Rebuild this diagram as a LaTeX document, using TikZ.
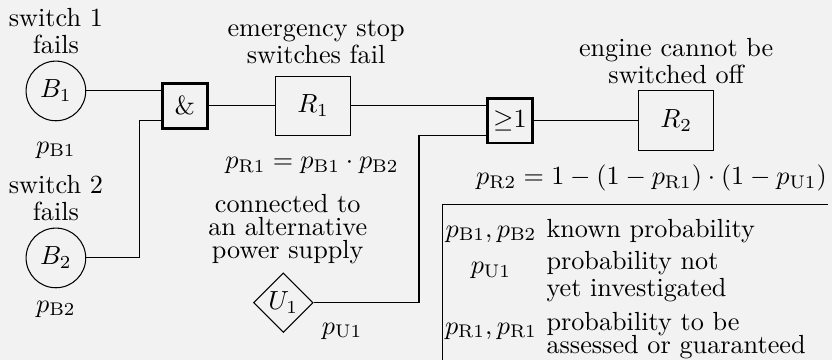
\documentclass[tikz,border=0pt]{standalone}
\usepackage{amsmath,amssymb}
\usetikzlibrary{shapes.geometric,positioning}
\definecolor{bggray}{RGB}{242,242,242}

\begin{document}
\begin{tikzpicture}[
  event/.style={circle,draw=black,inner sep=0pt,minimum size=0.8cm},
  undev/.style={diamond,draw=black,inner sep=0pt,minimum size=0.8cm},
  result/.style={rectangle,draw=black,minimum width=1.01cm,minimum height=0.8cm},
  gate/.style={rectangle,draw=black,line width=1pt,inner sep=0pt,minimum size=0.6cm},
  caption/.style={align=center,inner sep=0pt,anchor=base,
    font=\linespread{#1}\selectfont},
  caption/.default=0.83,
  prob/.style={inner sep=0pt,anchor=base},
]
\fill[bggray] (0,0) rectangle (11.16,4.83);
\useasboundingbox (0,0) rectangle (11.16,4.83);

\node[event] (B1) at (0.75,3.61) {$B_1$};
\node[event] (B2) at (0.75,1.37) {$B_2$};
\node[gate] (and) at (2.48,3.41) {\&};
\node[result] (R1) at (4.2,3.41) {$R_1$};
\node[gate] (or) at (6.84,3.21) {$\geq$1};
\node[result] (R2) at (9.07,3.21) {$R_2$};
\node[undev] (U1) at (3.8,0.77) {$U_1$};

\coordinate (k1) at (1.865,1.37);
\coordinate (k2) at (5.62,0.77);
\draw (B1) -- (B1 -| and.west);
\draw (B2) -- (k1) |- ([yshift=-0.2cm]and.west);
\draw (and) -- (R1);
\draw (R1.east) -- (R1.east -| or.west);
\draw (U1) -- (k2) |- ([yshift=-0.2cm]or.west);
\draw (or) -- (R2);

% multi-line captions sit on their last line
\node[caption] (tB1) at (0.75,4.118) {switch 1\\fails};
\node[caption] (tB2) at (0.75,1.878) {switch 2\\fails};
\node[caption] (tR1) at (4.24,3.984) {emergency stop\\switches fail};
\node[caption] (tR2) at (9.07,3.716) {engine cannot be\\switched off};
\node[caption=0.73] (tU1) at (3.86,1.368) {connected to\\an alternative\\power supply};

\node[prob] (pB1) at (0.75,2.777) {$p_{\mathrm{B1}}$};
\node[prob] (pB2) at (0.75,0.644) {$p_{\mathrm{B2}}$};
\node[prob] (pU1) at (4.59,0.349) {$p_{\mathrm{U1}}$};
\node[prob] (pR1) at (4.185,2.575) {$p_{\mathrm{R1}} = p_{\mathrm{B1}} \cdot p_{\mathrm{B2}}$};
\node[prob] (pR2) at (8.74,2.36) {$p_{\mathrm{R2}} = 1-(1-p_{\mathrm{R1}})\cdot(1-p_{\mathrm{U1}})$};

\draw (11.107,2.093) -- (5.93,2.093) -- (5.93,0);
\node[prob] (k1a) at (6.586,1.65) {$p_{\mathrm{B1}},p_{\mathrm{B2}}$};
\node[prob,anchor=base west] (k1b) at (7.324,1.65) {known probability};
\node[prob] (k2a) at (6.586,1.167) {$p_{\mathrm{U1}}$};
\node[caption=0.73,anchor=base west,align=left] (k2b) at (7.324,0.858) {probability not\\yet investigated};
\node[prob] (k3a) at (6.586,0.349) {$p_{\mathrm{R1}},p_{\mathrm{R1}}$};
\node[caption=0.73,anchor=base west,align=left] (k3b) at (7.324,0.094) {probability to be\\[-1.5pt]assessed or guaranteed};
\end{tikzpicture}
\end{document}
